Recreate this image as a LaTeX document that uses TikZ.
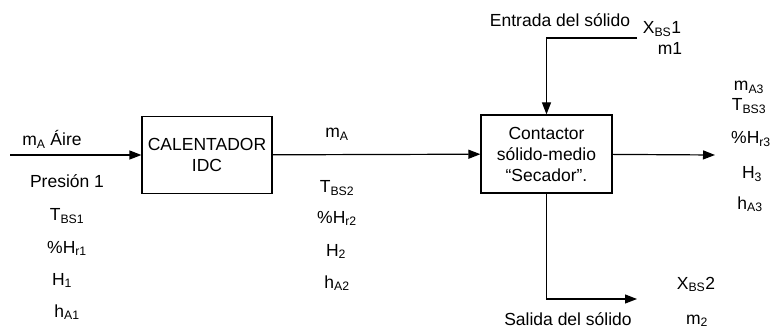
\documentclass[tikz,border=0pt]{standalone}
\usepackage{fontspec}
\setmainfont{Liberation Sans}
\usetikzlibrary{arrows.meta}

\begin{document}
\begin{tikzpicture}[x=1pt,y=-1pt,
	every node/.style={inner sep=0pt,font=\fontsize{17.5}{21}\selectfont},
	lbl/.style={text height=12pt,text depth=0pt},
	unit/.style={draw,line width=1.2pt,minimum width=130pt,minimum height=77pt,align=center},
	flow/.style={line width=1.2pt,-{Triangle[length=12pt,width=9pt]}}]
			\useasboundingbox (0,0) rectangle (776,331);
			\node [unit] (cal) at (207,155) {CALENTADOR\\IDC};
			\node [unit,minimum width=131pt,minimum height=78pt] (sec) at (546.5,154) {Contactor\\sólido-medio\\“Secador”.};
			\coordinate (in) at (10,155);
			\coordinate (top) at (637,38);
			\coordinate (outr) at (715,155);
			\coordinate (outb) at (637,299);
			\draw [flow] (in) -- (cal);
			\draw [flow] (cal) -- (sec);
			\draw [flow] (top) -| (sec);
			\draw [flow] (sec) -- (outr);
			\draw [flow] (sec) |- (outb);
			\node [lbl] (maire) at (52,140) {m\textsubscript{A} Áire};
			\node [lbl] (pres) at (67,182) {Presión 1};
			\node [lbl] (tbs1) at (67,215) {T\textsubscript{BS1}};
			\node [lbl] (hr1) at (67,247) {\%H\textsubscript{r1}};
			\node [lbl] (h1) at (62,279) {H\textsubscript{1}};
			\node [lbl] (ha1) at (67,311) {h\textsubscript{A1}};
			\node [lbl] (ma) at (337,132) {m\textsubscript{A}};
			\node [lbl] (tbs2) at (337,187) {T\textsubscript{BS2}};
			\node [lbl] (hr2) at (337,217) {\%H\textsubscript{r2}};
			\node [lbl] (h2) at (336,250) {H\textsubscript{2}};
			\node [lbl] (ha2) at (337,282) {h\textsubscript{A2}};
			\node [lbl] (entrada) at (560,21) {Entrada del sólido};
			\node [lbl] (xbs1) at (662,28) {X\textsubscript{BS}1};
			\node [lbl] (m1) at (670,49) {m1};
			\node [lbl] (ma3) at (749,85) {m\textsubscript{A3}};
			\node [lbl] (tbs3) at (749,105) {T\textsubscript{BS3}};
			\node [lbl] (hr3) at (751,138) {\%H\textsubscript{r3}};
			\node [lbl] (h3) at (752,173) {H\textsubscript{3}};
			\node [lbl] (ha3) at (750,203) {h\textsubscript{A3}};
			\node [lbl] (xbs2) at (696,283) {X\textsubscript{BS}2};
			\node [lbl] (salida) at (568,319) {Salida del sólido};
			\node [lbl] (m2) at (697,318) {m\textsubscript{2}};
\end{tikzpicture}
\end{document}
